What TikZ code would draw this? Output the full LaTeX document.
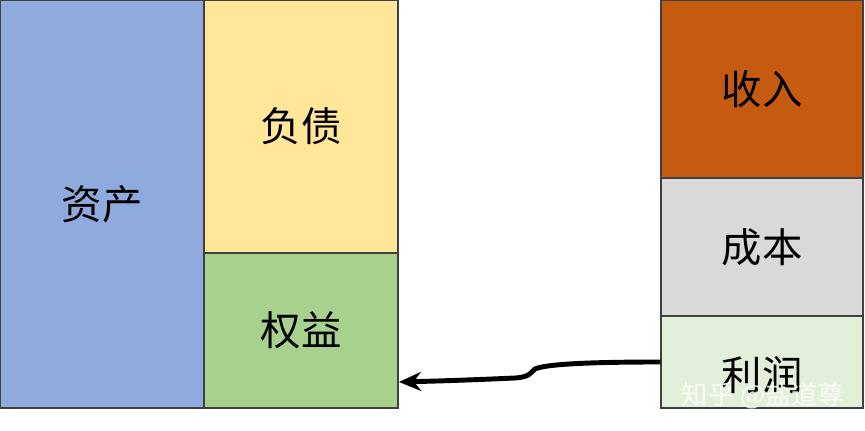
\documentclass[tikz,border=0pt]{standalone}
\usepackage{fontspec}
\newfontfamily\cjk{Noto Sans CJK SC}
\usetikzlibrary{arrows.meta,positioning}
\definecolor{assetblue}{HTML}{8FAADC}
\definecolor{debtyellow}{HTML}{FFE699}
\definecolor{equitygreen}{HTML}{A9D18E}
\definecolor{incomeorange}{HTML}{C55A11}
\definecolor{costgrey}{HTML}{D9D9D9}
\definecolor{profitgreen}{HTML}{E2F0D9}

\begin{document}
\begin{tikzpicture}[
    x=0.02cm, y=-0.02cm,
    every node/.style={font=\cjk\fontsize{23}{28}\selectfont},
    block/.style={rectangle, draw=black!75, line width=0.8pt, inner sep=0pt},
    flow/.style={-{Stealth[length=4.4mm, width=3.8mm]}, line width=2.8pt, black},
]
\useasboundingbox (0,0) rectangle (865,431);
\node[block, fill=assetblue, minimum width=4.08cm, minimum height=8.16cm] (asset) at (102,204) {资产};
\node[block, fill=debtyellow, minimum width=3.88cm, minimum height=5.06cm] (debt) at (301,126.5) {负债};
\node[block, fill=equitygreen, minimum width=3.88cm, minimum height=3.1cm] (equity) at (301,330.5) {权益};
\node[block, fill=incomeorange, minimum width=4.04cm, minimum height=3.56cm] (income) at (762,89) {收入};
\node[block, fill=costgrey, minimum width=4.04cm, minimum height=2.76cm] (cost) at (762,247) {成本};
\node[block, fill=profitgreen, minimum width=4.04cm, minimum height=1.84cm,
      label={[yshift=-0.26cm]center:利润}] (profit) at (762,362) {};
\node[text=white, draw=none, font=\cjk\fontsize{15}{18}\selectfont, opacity=0.85] (mark) at (763,396) {知乎 @盐道尊};
\coordinate (tip) at (399,382);
\draw[flow] (profit.west) .. controls (610,362) and (548,363) .. (535,369)
    .. controls (530,373) and (530,377) .. (515,378)
    .. controls (470,380) and (440,381) .. (tip);
\end{tikzpicture}
\end{document}
